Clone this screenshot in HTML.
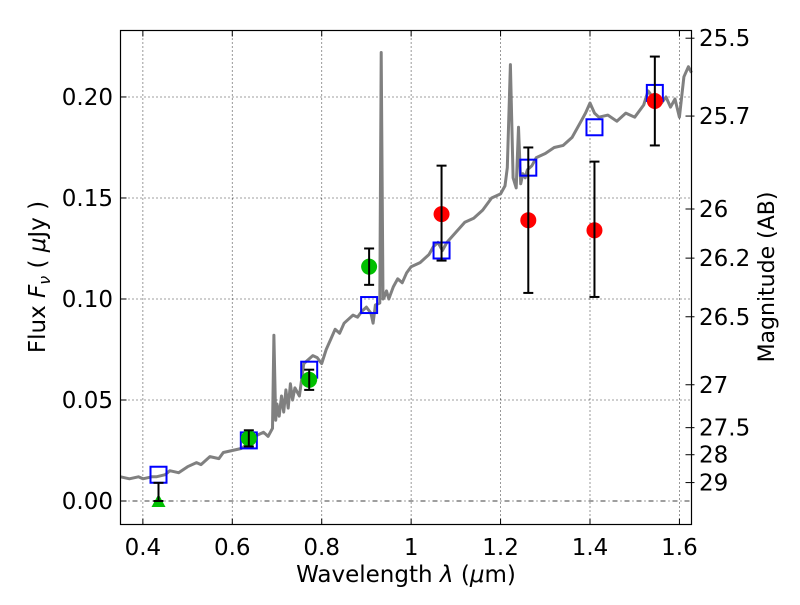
<!DOCTYPE html>
<html><head><meta charset="utf-8"><style>
body{margin:0;background:#fff;}
svg text{font-family:"DejaVu Sans","Liberation Sans",sans-serif;fill:#000;}
</style></head><body>
<svg id="chart" width="800" height="600" xmlns="http://www.w3.org/2000/svg">
<rect width="800" height="600" fill="#fff"/>
<g id="grid"></g>
<g id="spec"></g>
<g id="marks"></g>
<rect x="120.5" y="30.5" width="571" height="494" fill="none" stroke="#000" stroke-width="1.2"/>
<g id="axes"></g>
<text x="406" y="582" font-size="23" text-anchor="middle">Wavelength  <tspan font-style="italic">λ</tspan> (<tspan font-style="italic">μ</tspan>m)</text>
<text transform="translate(45,277) rotate(-90)" font-size="23" text-anchor="middle">Flux  <tspan font-style="italic">F</tspan><tspan font-style="italic" font-size="16" dy="5">ν</tspan><tspan dy="-5">  (  </tspan><tspan font-style="italic">μ</tspan>Jy )</text>
<text transform="translate(774,277) rotate(-90)" font-size="22" text-anchor="middle">Magnitude (AB)</text>
</svg>
<script>
const xTicks=[0.4,0.6,0.8,1.0,1.2,1.4,1.6];
const xTickLabels=["0.4","0.6","0.8","1","1.2","1.4","1.6"];
const yTicks=[0,0.05,0.10,0.15,0.20];
const yTickLabels=["0.00","0.05","0.10","0.15","0.20"];
const magTicks=[25.5,25.7,26,26.2,26.5,27,27.5,28,29];
const magLabels=["25.5","25.7","26","26.2","26.5","27","27.5","28","29"];
const specWave=[0.35,0.37,0.39,0.40,0.42,0.43,0.45,0.46,0.48,0.50,0.52,0.53,0.55,0.57,0.58,0.60,0.62,0.64,0.65,0.67,0.68,0.69,0.693,0.697,0.70,0.705,0.71,0.715,0.72,0.725,0.73,0.735,0.74,0.75,0.76,0.77,0.78,0.79,0.80,0.81,0.82,0.83,0.84,0.85,0.86,0.87,0.88,0.89,0.90,0.91,0.915,0.92,0.93,0.933,0.937,0.94,0.945,0.95,0.96,0.97,0.98,0.99,1.00,1.02,1.04,1.05,1.06,1.07,1.08,1.10,1.12,1.14,1.16,1.18,1.20,1.21,1.215,1.222,1.228,1.235,1.24,1.245,1.25,1.255,1.26,1.27,1.28,1.30,1.32,1.34,1.36,1.38,1.39,1.40,1.41,1.42,1.44,1.46,1.48,1.50,1.52,1.53,1.54,1.55,1.56,1.57,1.58,1.59,1.60,1.61,1.62,1.627];
const specFlux=[0.012,0.011,0.012,0.011,0.012,0.012,0.013,0.015,0.014,0.017,0.019,0.018,0.022,0.021,0.024,0.025,0.026,0.029,0.032,0.034,0.032,0.036,0.082,0.040,0.048,0.042,0.052,0.044,0.055,0.046,0.058,0.050,0.056,0.052,0.068,0.070,0.072,0.071,0.068,0.075,0.080,0.085,0.083,0.088,0.090,0.092,0.091,0.094,0.096,0.093,0.088,0.097,0.098,0.222,0.100,0.101,0.104,0.100,0.106,0.110,0.108,0.113,0.116,0.118,0.122,0.126,0.128,0.124,0.128,0.133,0.138,0.140,0.144,0.150,0.152,0.156,0.165,0.216,0.160,0.155,0.185,0.157,0.162,0.160,0.164,0.166,0.170,0.172,0.175,0.176,0.180,0.188,0.192,0.197,0.192,0.190,0.191,0.188,0.192,0.190,0.196,0.203,0.200,0.201,0.197,0.200,0.195,0.199,0.190,0.210,0.215,0.212];
const sqWave=[0.435,0.637,0.772,0.906,1.068,1.262,1.41,1.545];
const sqFlux=[0.013,0.030,0.065,0.097,0.124,0.165,0.185,0.202];
const greenWave=[0.637,0.772,0.906];
const greenFlux=[0.031,0.060,0.116];
const greenLo=[0.027,0.055,0.107];
const greenHi=[0.035,0.065,0.125];
const redWave=[1.068,1.262,1.41,1.545];
const redFlux=[0.142,0.139,0.134,0.198];
const redLo=[0.119,0.103,0.101,0.176];
const redHi=[0.166,0.175,0.168,0.220];
const triWave=[0.435];
const triFlux=[0.0];
const triHi=[0.009];

const X0=0.35,X1=1.627,PL=120.5,PR=691.5,Y0=-0.01163,Y1=0.2329,PT=30.5,PB=524.5;
const sx=v=>PL+(v-X0)/(X1-X0)*(PR-PL);
const sy=v=>PB-(v-Y0)/(Y1-Y0)*(PB-PT);
const NS="http://www.w3.org/2000/svg";
function mk(t,p,a){const e=document.createElementNS(NS,t);for(const k in a)e.setAttribute(k,a[k]);p.appendChild(e);return e;}
const grid=document.getElementById('grid'),axes=document.getElementById('axes'),spec=document.getElementById('spec'),marks=document.getElementById('marks');
xTicks.forEach((v,i)=>{
 const l=mk('line',grid,{x1:sx(v),x2:sx(v),y1:PT,y2:PB,stroke:'#000','stroke-width':0.8,'stroke-dasharray':'1,3'});
 
 
 mk('line',axes,{x1:sx(v),x2:sx(v),y1:PB,y2:PB-6,stroke:'#000'});
 mk('line',axes,{x1:sx(v),x2:sx(v),y1:PT,y2:PT+6,stroke:'#000'});
 const t=mk('text',axes,{x:sx(v),y:555,'font-size':23,'text-anchor':'middle'});t.textContent=xTickLabels[i];
 
 
});
yTicks.forEach((v,i)=>{
 const l=mk('line',grid,{x1:PL,x2:PR,y1:sy(v),y2:sy(v),stroke:'#000','stroke-width':0.8,'stroke-dasharray':v===0?'5,3,1,3':'1,3'});
 
 
 mk('line',axes,{x1:PL,x2:PL+6,y1:sy(v),y2:sy(v),stroke:'#000'});
 const t=mk('text',axes,{x:113,y:sy(v)+8,'font-size':23,'text-anchor':'end'});t.textContent=yTickLabels[i];
 
 
});
magTicks.forEach((m,i)=>{
 const f=Math.pow(10,(23.9-m)/2.5);const y=sy(f);
 mk('line',axes,{x1:PR,x2:PR-6,y1:y,y2:y,stroke:'#000'});
 mk('line',axes,{x1:PR,x2:PR+3,y1:y,y2:y,stroke:'#000'});
 const t=mk('text',axes,{x:699,y:y+8,'font-size':23});t.textContent=magLabels[i];
 
 
});
const pts=specWave.map((w,i)=>sx(w).toFixed(1)+','+sy(specFlux[i]).toFixed(1)).join(' ');
const pl=mk('polyline',spec,{points:pts,fill:'none',stroke:'#808080','stroke-width':3,'stroke-linejoin':'round'});


sqWave.forEach((w,i)=>{
 const r=mk('rect',marks,{x:sx(w)-8,y:sy(sqFlux[i])-8,width:16,height:16,fill:'none',stroke:'#0000ff','stroke-width':2});
 
 
});
function err(w,lo,hi){const x=sx(w);
 mk('line',marks,{x1:x,x2:x,y1:sy(lo),y2:sy(hi),stroke:'#000','stroke-width':2});
 mk('line',marks,{x1:x-5,x2:x+5,y1:sy(lo),y2:sy(lo),stroke:'#000','stroke-width':2});
 mk('line',marks,{x1:x-5,x2:x+5,y1:sy(hi),y2:sy(hi),stroke:'#000','stroke-width':2});}
greenWave.forEach((w,i)=>{
 const c=mk('circle',marks,{cx:sx(w),cy:sy(greenFlux[i]),r:8,fill:'#00bf00'});
 
 
 err(w,greenLo[i],greenHi[i]);
});
redWave.forEach((w,i)=>{
 const c=mk('circle',marks,{cx:sx(w),cy:sy(redFlux[i]),r:8,fill:'#ff0000'});
 
 
 err(w,redLo[i],redHi[i]);
});
triWave.forEach((w,i)=>{
 const x=sx(w),y=sy(triFlux[i]);
 const p=mk('polygon',marks,{points:`${x-7},${y+6} ${x+7},${y+6} ${x},${y-7}`,fill:'#00bf00'});
 
 
 mk('line',marks,{x1:x,x2:x,y1:y,y2:sy(triHi[i]),stroke:'#000','stroke-width':2});
 mk('line',marks,{x1:x-5,x2:x+5,y1:sy(triHi[i]),y2:sy(triHi[i]),stroke:'#000','stroke-width':2});
 mk('line',marks,{x1:x-5,x2:x+5,y1:y,y2:y,stroke:'#000','stroke-width':2});
});
</script>
</body></html>
